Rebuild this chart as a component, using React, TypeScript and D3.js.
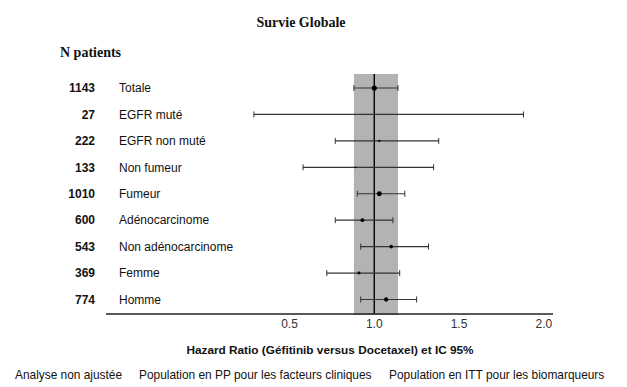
import React from "react";
import * as d3 from "d3";

const categories = [
  "Totale",
  "EGFR muté",
  "EGFR non muté",
  "Non fumeur",
  "Fumeur",
  "Adénocarcinome",
  "Non adénocarcinome",
  "Femme",
  "Homme",
];
const nPatients = [1143, 27, 222, 133, 1010, 600, 543, 369, 774];
const hazardRatio = [1.0, 1.0, 1.03, 0.89, 1.03, 0.93, 1.1, 0.91, 1.07];
const ciLower = [0.88, 0.29, 0.77, 0.58, 0.9, 0.77, 0.92, 0.72, 0.92];
const ciUpper = [1.14, 1.88, 1.38, 1.35, 1.18, 1.11, 1.32, 1.15, 1.25];
const tickValues = [0.5, 1.0, 1.5, 2.0];
const tickLabels = ["0.5", "1.0", "1.5", "2.0"];
const bandRange = [0.88, 1.14];
const footnotes = [
  "Analyse non ajustée",
  "Population en PP pour les facteurs cliniques",
  "Population en ITT pour les biomarqueurs",
];

const W = 627;
const H = 387;
const sans = "Arial, 'Liberation Sans', sans-serif";
const serif = "'Times New Roman', 'Liberation Serif', serif";

export default function App() {
  const x = d3.scaleLinear().domain([0.5, 2.0]).range([289.5, 543.8]);
  const y = d3.scalePoint<string>().domain(categories).range([88, 299.5]);
  const r = d3.scaleSqrt().domain([0, 1143]).range([0, 2.6]);
  const axisY = 314;
  const axisLeft = 106;
  const axisRight = 553;
  const bandTop = 74;
  const footX = [15, 139, 389];

  return (
    <div style={{ position: "absolute", left: 0, top: 0 }}>
      <svg width={W} height={H} style={{ display: "block", background: "#fff" }}>
        <rect width={W} height={H} fill="#fff" />
        <text x={301} y={27} textAnchor="middle" fontFamily={serif} fontWeight="bold" fontSize={14} fill="#111">
          Survie Globale
        </text>
        <text x={60} y={57} fontFamily={serif} fontWeight="bold" fontSize={14} fill="#111">
          N patients
        </text>

        {/* grey band */}
        <rect
          x={x(bandRange[0])}
          y={bandTop}
          width={x(bandRange[1]) - x(bandRange[0])}
          height={axisY - bandTop + 1}
          fill="#b3b3b3"
        />
        {/* reference line */}
        <line x1={x(1)} x2={x(1)} y1={bandTop} y2={axisY} stroke="#000" strokeWidth={1.4} />

        {categories.map((c, i) => {
          const yy = y(c)!;
          return (
            <g key={c}>
              <text x={95} y={yy + 4.3} textAnchor="end" fontFamily={sans} fontWeight="bold" fontSize={12} fill="#111">
                {nPatients[i]}
              </text>
              <text x={119} y={yy + 4.3} fontFamily={sans} fontSize={12} fill="#111">
                {c}
              </text>
              <line x1={x(ciLower[i])} x2={x(ciUpper[i])} y1={yy} y2={yy} stroke="#333" strokeWidth={1.2} />
              <line x1={x(ciLower[i])} x2={x(ciLower[i])} y1={yy - 3} y2={yy + 3} stroke="#333" strokeWidth={1} />
              <line x1={x(ciUpper[i])} x2={x(ciUpper[i])} y1={yy - 3} y2={yy + 3} stroke="#333" strokeWidth={1} />
              <circle cx={x(hazardRatio[i])} cy={yy} r={r(nPatients[i])} fill="#000" />
            </g>
          );
        })}

        {/* axis */}
        <line x1={axisLeft} x2={axisRight} y1={axisY} y2={axisY} stroke="#222" strokeWidth={1.3} />
        {tickValues.map((v, i) => (
          <text key={v} x={x(v)} y={axisY + 14} textAnchor="middle" fontFamily={sans} fontSize={12} fill="#333">
            {tickLabels[i]}
          </text>
        ))}
        <text x={330} y={354} textAnchor="middle" fontFamily={sans} fontWeight="bold" fontSize={11.8} fill="#111">
          Hazard Ratio (Géfitinib versus Docetaxel) et IC 95%
        </text>

        {footnotes.map((f, i) => (
          <text key={f} x={footX[i]} y={379} fontFamily={sans} fontSize={11.9} fill="#111">
            {f}
          </text>
        ))}
      </svg>
    </div>
  );
}
